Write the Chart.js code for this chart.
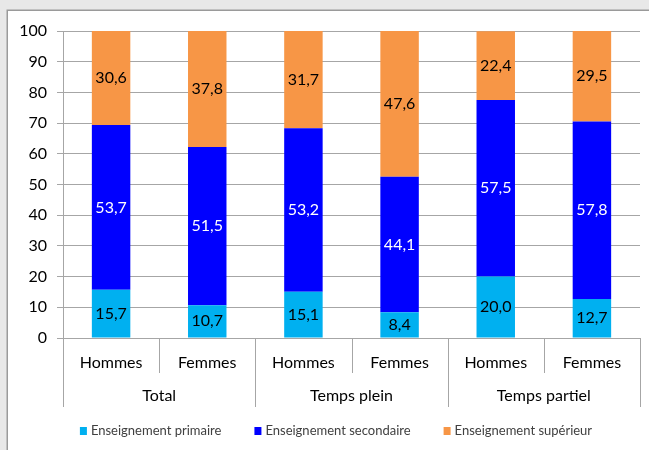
<!DOCTYPE html>
<html>
<head>
<meta charset="utf-8">
<script src="https://cdn.jsdelivr.net/npm/chart.js@4/dist/chart.umd.min.js"></script>
<style>
  html, body { margin: 0; padding: 0; background: #e8e8e8; }
  #wrap { width: 649px; height: 450px; }
</style>
</head>
<body>
<div id="wrap"><canvas id="chart" width="649" height="450"></canvas></div>
<script>
const categories = ['Hommes', 'Femmes', 'Hommes', 'Femmes', 'Hommes', 'Femmes'];
const groups = ['Total', 'Temps plein', 'Temps partiel'];
const primaire = [15.7, 10.7, 15.1, 8.4, 20.0, 12.7];
const secondaire = [53.7, 51.5, 53.2, 44.1, 57.5, 57.8];
const superieur = [30.6, 37.8, 31.7, 47.6, 22.4, 29.5];
const yTicks = [0, 10, 20, 30, 40, 50, 60, 70, 80, 90, 100];

const FONT = 'Lato, Calibri, sans-serif';
const lineColor = '#a6a6a6';

// gray frame + white panel behind the chart
const framePlugin = {
  id: 'frame',
  beforeDraw(chart) {
    const ctx = chart.ctx;
    ctx.save();
    ctx.fillStyle = '#e8e8e8';
    ctx.fillRect(0, 0, chart.width, chart.height);
    ctx.fillStyle = '#ffffff';
    ctx.fillRect(8, 11, chart.width - 8, chart.height - 11);
    ctx.strokeStyle = '#9a9a9a';
    ctx.lineWidth = 1.5;
    ctx.beginPath();
    ctx.moveTo(7.25, chart.height);
    ctx.lineTo(7.25, 10.25);
    ctx.lineTo(chart.width, 10.25);
    ctx.stroke();
    ctx.restore();
  }
};

// values in the middle of each segment
const labelPlugin = {
  id: 'segLabels',
  afterDatasetsDraw(chart) {
    const ctx = chart.ctx;
    ctx.save();
    ctx.font = '16px ' + FONT;
    ctx.textAlign = 'center';
    ctx.textBaseline = 'middle';
    chart.data.datasets.forEach((ds, di) => {
      const meta = chart.getDatasetMeta(di);
      meta.data.forEach((bar, i) => {
        const v = ds.data[i];
        ctx.fillStyle = ds.labelColor;
        ctx.fillText(v.toFixed(1).replace('.', ','), bar.x, (bar.y + bar.base) / 2);
      });
    });
    ctx.restore();
  }
};

// second level of x labels, separators and legend
const groupPlugin = {
  id: 'groupAxis',
  afterDraw(chart) {
    const ctx = chart.ctx;
    const x = chart.scales.x;
    const area = chart.chartArea;
    const n = categories.length;
    const per = n / groups.length;
    const w = (x.right - x.left) / n;
    ctx.save();
    ctx.strokeStyle = lineColor;
    ctx.lineWidth = 1;
    ctx.beginPath();
    ctx.moveTo(area.left - 6, Math.round(area.bottom) + 0.5);
    ctx.lineTo(area.right, Math.round(area.bottom) + 0.5);
    for (let i = 0; i <= n; i++) {
      const px = Math.round(x.left + i * w) + 0.5;
      const len = (i % per === 0) ? 69 : 35;
      ctx.moveTo(px, area.bottom);
      ctx.lineTo(px, area.bottom + len);
    }
    ctx.stroke();

    ctx.fillStyle = '#000';
    ctx.font = '16px ' + FONT;
    ctx.textAlign = 'center';
    ctx.textBaseline = 'middle';
    groups.forEach((g, gi) => {
      const cx = x.left + (gi * per + per / 2) * w;
      ctx.fillText(g, cx, area.bottom + 58);
    });

    // legend
    ctx.font = '13px ' + FONT;
    ctx.textAlign = 'left';
    const box = 7, gapText = 4, gapItem = 33;
    const items = chart.data.datasets.map(ds => ({ text: ds.label, color: ds.backgroundColor, w: ctx.measureText(ds.label).width }));
    let total = items.reduce((s, it) => s + box + gapText + it.w, 0) + gapItem * (items.length - 1);
    let lx = 336 - total / 2;
    const ly = 431;
    items.forEach(it => {
      ctx.fillStyle = it.color;
      ctx.fillRect(lx, ly - 4, box, 8);
      ctx.fillStyle = '#404040';
      ctx.fillText(it.text, lx + box + gapText, ly);
      lx += box + gapText + it.w + gapItem;
    });
    ctx.restore();
  }
};

new Chart(document.getElementById('chart'), {
  type: 'bar',
  data: {
    labels: categories,
    datasets: [
      { label: 'Enseignement primaire', data: primaire, backgroundColor: '#00b0f0', labelColor: '#000' },
      { label: 'Enseignement secondaire', data: secondaire, backgroundColor: '#0000ff', labelColor: '#fff' },
      { label: 'Enseignement supérieur', data: superieur, backgroundColor: '#f79646', labelColor: '#000' }
    ]
  },
  options: {
    responsive: false,
    animation: false,
    layout: { padding: { left: 8, right: 9, top: 31, bottom: 0 } },
    datasets: { bar: { categoryPercentage: 1, barPercentage: 0.4 } },
    plugins: {
      legend: { display: false },
      tooltip: { enabled: false }
    },
    scales: {
      x: {
        stacked: true,
        grid: { display: false },
        border: { display: false },
        ticks: { color: '#000', font: { family: FONT, size: 16 }, padding: 7, maxRotation: 0, autoSkip: false },
        afterFit(scale) { scale.height = 112; }
      },
      y: {
        stacked: true,
        min: 0,
        max: 100,
        afterBuildTicks(scale) { scale.ticks = yTicks.map(v => ({ value: v })); },
        grid: { color: lineColor, tickLength: 6 },
        border: { color: lineColor },
        ticks: { color: '#000', font: { family: FONT, size: 16 }, padding: 10 },
        afterFit(scale) { scale.width = 55; }
      }
    }
  },
  plugins: [framePlugin, labelPlugin, groupPlugin]
});
</script>
</body>
</html>
